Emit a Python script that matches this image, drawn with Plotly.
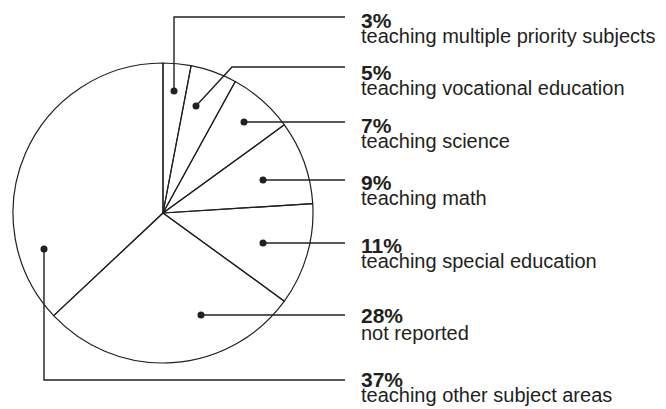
import plotly.graph_objects as go

# ---- data ----
categories = [
    "teaching multiple priority subjects",
    "teaching vocational education",
    "teaching science",
    "teaching math",
    "teaching special education",
    "not reported",
    "teaching other subject areas",
]
values = [3, 5, 7, 9, 11, 28, 37]
pct_labels = ["3%", "5%", "7%", "9%", "11%", "28%", "37%"]

# ---- layout geometry (pixels) ----
W, H = 666, 409
CX, CY, R = 163, 213, 150
INK = "#231f20"
FONT = "Liberation Sans, Arial, Helvetica, sans-serif"

# leader-line paths (dot first), in pixel coordinates
leaders = [
    [(174, 91), (174, 17), (345, 17)],
    [(196, 106), (232, 67), (345, 67)],
    [(244, 122), (345, 122)],
    [(263, 180), (345, 180)],
    [(263, 243), (345, 243)],
    [(201, 315), (345, 315)],
    [(44, 249), (44, 380), (345, 380)],
]
bold_base = [27.3, 79.3, 131.7, 189, 251.7, 321.7, 385.7]
reg_base = [42, 94.3, 146.7, 204, 266.7, 339.5, 401.5]
TX = 360
BOLD_SIZE = 21
REG_SIZE = 20

fig = go.Figure()

fig.add_trace(go.Pie(
    values=values,
    labels=categories,
    sort=False,
    direction="clockwise",
    rotation=0,
    textinfo="none",
    hoverinfo="label+percent",
    marker=dict(colors=["rgba(255,255,255,0)"] * len(values), line=dict(color=INK, width=1.2)),
    domain=dict(x=[(CX - R) / W, (CX + R) / W], y=[(H - CY - R) / H, (H - CY + R) / H]),
    showlegend=False,
))

for path in leaders:
    xs = [p[0] for p in path]
    ys = [p[1] for p in path]
    fig.add_trace(go.Scatter(
        x=xs, y=ys, mode="lines", line=dict(color=INK, width=1.4),
        hoverinfo="skip", showlegend=False, xaxis="x", yaxis="y",
    ))
fig.add_trace(go.Scatter(
    x=[p[0][0] for p in leaders], y=[p[0][1] for p in leaders],
    mode="markers", marker=dict(color=INK, size=7),
    hoverinfo="skip", showlegend=False,
))

annotations = []
for i, (pl, cat) in enumerate(zip(pct_labels, categories)):
    annotations.append(dict(
        x=TX, y=bold_base[i] - 0.905 * BOLD_SIZE, xref="x", yref="y",
        xanchor="left", yanchor="top", showarrow=False, borderpad=0,
        text="<b>" + pl + "</b>", font=dict(family=FONT, size=BOLD_SIZE, color=INK),
    ))
    annotations.append(dict(
        x=TX, y=reg_base[i] - 0.905 * REG_SIZE, xref="x", yref="y",
        xanchor="left", yanchor="top", showarrow=False, borderpad=0,
        text=cat, font=dict(family=FONT, size=REG_SIZE, color=INK),
    ))

fig.update_layout(
    width=W, height=H,
    margin=dict(l=0, r=0, t=0, b=0),
    paper_bgcolor="white", plot_bgcolor="rgba(0,0,0,0)",
    xaxis=dict(range=[0, W], visible=False, fixedrange=True, domain=[0, 1]),
    yaxis=dict(range=[H, 0], visible=False, fixedrange=True, domain=[0, 1]),
    annotations=annotations,
)

fig.write_html(
    "out.html",
    config={"displayModeBar": False},
    post_script="document.body.style.margin='0';document.body.style.padding='0';",
)
